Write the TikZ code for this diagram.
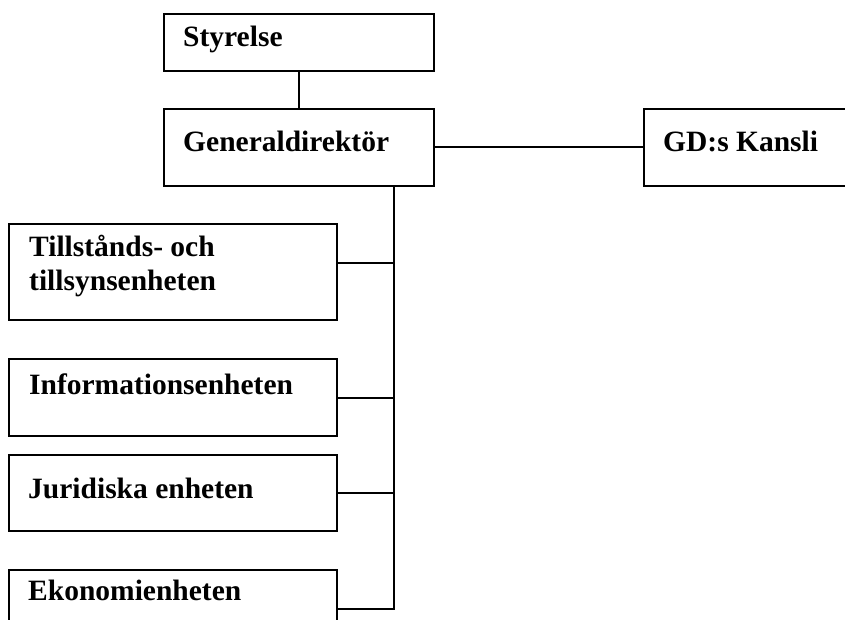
\documentclass[tikz,border=0pt]{standalone}
\usepackage{fontspec}
\setmainfont{Liberation Serif}
\usepackage{tikz}

\tikzset{
  unit/.style={draw, line width=2pt, anchor=north west, inner sep=0pt},
  lbl/.style={anchor=base west, inner sep=0pt, align=left, font=\fontsize{29.5}{34}\selectfont\bfseries},
  conn/.style={line width=2pt}
}

\begin{document}
\begin{tikzpicture}[x=1pt,y=-1pt]
    \useasboundingbox (0,0) rectangle (845,620);
    % boxes, placed by their top left corners
    \node[unit, minimum width=270pt, minimum height=57pt] (Styrelse) at (163,13) {};
    \node[unit, minimum width=270pt, minimum height=77pt] (GD) at (163,108) {};
    \node[unit, minimum width=220pt, minimum height=77pt] (Kansli) at (643,108) {};
    \node[unit, minimum width=328pt, minimum height=96pt] (Tillstand) at (8,223) {};
    \node[unit, minimum width=328pt, minimum height=77pt] (Info) at (8,358) {};
    \node[unit, minimum width=328pt, minimum height=76pt] (Jur) at (8,454) {};
    \node[unit, minimum width=328pt, minimum height=82pt] (Ekon) at (8,569) {};

    \node[lbl] (StyrelseTxt) at (183,47) {Styrelse};
    \node[lbl] (GDTxt) at (183,152) {Generaldirektör};
    \node[lbl] (KansliTxt) at (663,152) {GD:s Kansli};
    \node[lbl] (TillstandTxt) at (29,290) {Tillstånds- och\\tillsynsenheten};
    \node[lbl] (InfoTxt) at (29,394) {Informationsenheten};
    \node[lbl] (JurTxt) at (28,498) {Juridiska enheten};
    \node[lbl] (EkonTxt) at (28,600) {Ekonomienheten};

    \coordinate (TrunkEnd) at (394,609);

    \draw[conn] (Styrelse) -- (GD);
    \draw[conn] (GD) -- (Kansli);

    \draw[conn] (GD.south -| TrunkEnd) -- (TrunkEnd) -- (TrunkEnd -| Ekon.east);
    \draw[conn] ([yshift=9pt]Tillstand.east) -- ([yshift=9pt]Tillstand.east -| TrunkEnd);
    \draw[conn] (Info.east) -- (Info.east -| TrunkEnd);
    \draw[conn] (Jur.east) -- (Jur.east -| TrunkEnd);

\end{tikzpicture}
\end{document}
